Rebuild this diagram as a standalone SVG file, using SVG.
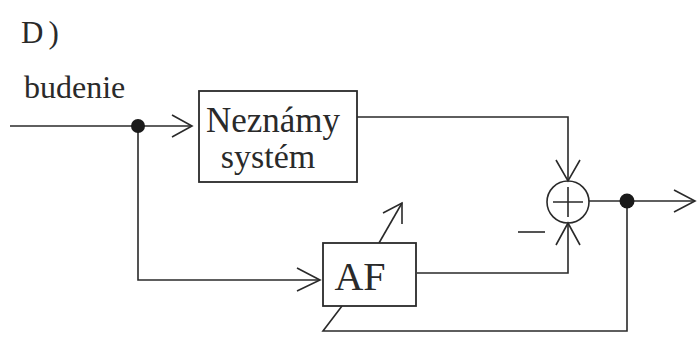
<svg xmlns="http://www.w3.org/2000/svg" width="697" height="338" viewBox="0 0 697 338">
<style>
.ln{fill:none;stroke:#2a2a2a;stroke-width:1.6;stroke-linejoin:miter}
.bx{fill:#fff;stroke:#2a2a2a;stroke-width:1.8}
.t{font-family:"Liberation Serif","Times New Roman",serif;fill:#2a2a2a}
.dot{fill:#1a1a1a}
</style>
<rect width="697" height="338" fill="#fff"/>
<text class="t" x="21" y="43" font-size="31" letter-spacing="5">D)</text>
<text class="t" x="24" y="98" font-size="32">budenie</text>
<g id="connectors">
  <path class="ln" d="M10,126 H192"/>
  <path class="ln" d="M172,115 L192,126 L172,137"/>
  <path class="ln" d="M138,126 V280 H320"/>
  <path class="ln" d="M297,268 L320,280 L297,291"/>
  <path class="ln" d="M357,117 H568 V181"/>
  <path class="ln" d="M556,160 L568,181 L580,160"/>
  <path class="ln" d="M417,273 H568 V223"/>
  <path class="ln" d="M556,245 L568,223 L580,245"/>
  <path class="ln" d="M589,201 H695"/>
  <path class="ln" d="M674,190 L695,201 L674,212"/>
  <path class="ln" d="M627,201 V331 H323 L342,306"/>
  <path class="ln" d="M379,243 L402,203"/>
  <path class="ln" d="M383,213 L402,203 L402,224"/>
  <path class="ln" d="M518,232 H545" stroke-width="2.2"/>
</g>
<g id="junction-in"><circle class="dot" cx="138" cy="126" r="7"/></g>
<g id="junction-out"><circle class="dot" cx="627" cy="201" r="7.5"/></g>
<g id="neznamy-system">
  <rect class="bx" x="199" y="91" width="158" height="91"/>
  <text class="t" x="273" y="132" font-size="35" text-anchor="middle">Neznámy</text>
  <text class="t" x="268" y="168" font-size="34" text-anchor="middle">systém</text>
</g>
<g id="af">
  <rect class="bx" x="323" y="243" width="93" height="63"/>
  <text class="t" x="360" y="290" font-size="40" text-anchor="middle">AF</text>
</g>
<g id="sum">
  <circle class="ln" cx="568" cy="202" r="21"/>
  <path class="ln" d="M553,202 H583 M568,187 V217"/>
</g>
</svg>
